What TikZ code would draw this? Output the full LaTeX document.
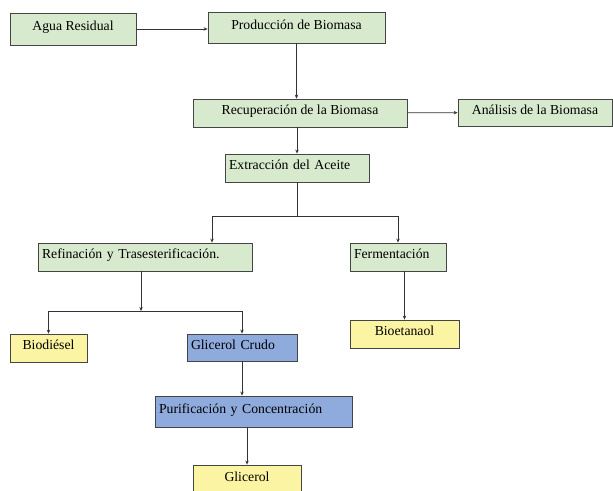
\documentclass[tikz,border=0pt]{standalone}
\usepackage{fontspec}
\setmainfont{Liberation Serif}
\usetikzlibrary{positioning,arrows.meta,calc}
\definecolor{bxline}{HTML}{454545}
\definecolor{bxgreenL}{HTML}{D7EACD}
\definecolor{bxblueL}{HTML}{8FAADC}
\definecolor{bxyellowL}{HTML}{FBF4A2}

\begin{document}
\begin{tikzpicture}[
      x=0.75pt, y=-0.75pt,
      font=\fontsize{10.3}{12}\selectfont,
      blk/.style={draw=bxline, line width=0.6pt, inner xsep=3pt, inner ysep=0pt,
                  text height=0.7em, text depth=0.45em, align=center},
      gblk/.style={blk, fill=bxgreenL},
      bblk/.style={blk, fill=bxblueL},
      yblk/.style={blk, fill=bxyellowL},
      lft/.style={align=left},
      arr/.style={-{Stealth[length=3pt,width=2.6pt]}, line width=0.6pt, draw=black!80}
    ]
    \useasboundingbox (0,0) rectangle (613,491);
    % ------------- upper part -------------
    \node[gblk, minimum width=94.5pt, minimum height=24pt] (agua) at (73,29) {Agua Residual};
    \node[gblk, minimum width=132.75pt, minimum height=23.25pt] (prod) at (296.5,27.5) {Producción de Biomasa};
    \node[gblk, minimum width=160.5pt, minimum height=21pt] (recup) at (300,113) {Recuperación de la Biomasa};
    \node[gblk, minimum width=115.5pt, minimum height=20.25pt] (anal) at (535,112.5) {Análisis de la Biomasa};
    \node[gblk, lft, text width=102pt, minimum height=21pt] (extr) at (297,168) {Extracción del Aceite};
    \draw[arr] (agua) -- (agua -| prod.west);
    \draw[arr] (prod.south) -- (prod.south |- recup.north);
    \draw[arr] (recup) -- (anal);
    \draw[arr] (recup.south -| extr.north) -- (extr.north);
    % ------------- branches -------------
    \node[gblk, lft, text width=154.5pt, minimum height=21pt] (refin) at (145,257) {Refinación y Trasesterificación.};
    \node[gblk, lft, text width=66pt, minimum height=21pt] (ferm) at (398,257) {Fermentación};
    \coordinate (split1) at (extr.south |- 0,216);
    \draw[line width=0.6pt, draw=black!80] (extr.south) -- (split1);
    \draw[arr] (split1) -| ([xshift=50.25pt]refin.north);
    \draw[arr] (split1) -| (ferm.north);
    % ------------- products -------------
    \node[yblk, minimum width=57.75pt, minimum height=21pt] (biod) at (48.5,348) {Biodiésel};
    \node[bblk, lft, text width=76.5pt, minimum height=20.25pt] (gcrudo) at (242,347.5) {Glicerol Crudo};
    \node[yblk, minimum width=81.75pt, minimum height=21pt] (bioet) at (404.5,334) {Bioetanaol};
    \coordinate (split2) at (141,311);
    \draw[arr] (split2 |- refin.south) -- (split2);
    \draw[arr] (split2) -| (biod.north);
    \draw[arr] (split2) -| (gcrudo.north);
    \draw[arr, line width=1.2pt] (ferm.south -| bioet.north) -- (bioet.north);
    % ------------- glicerol -------------
    \node[bblk, lft, text width=141.75pt, minimum height=23.25pt] (purif) at (253.5,411.5) {Purificación y Concentración};
    \node[yblk, minimum width=81pt, minimum height=22.5pt] (glic) at (247,480) {Glicerol};
    \draw[arr] (gcrudo.south) -- (gcrudo.south |- purif.north);
    \draw[arr] (glic.north |- purif.south) -- (glic.north);
  \end{tikzpicture}
\end{document}
